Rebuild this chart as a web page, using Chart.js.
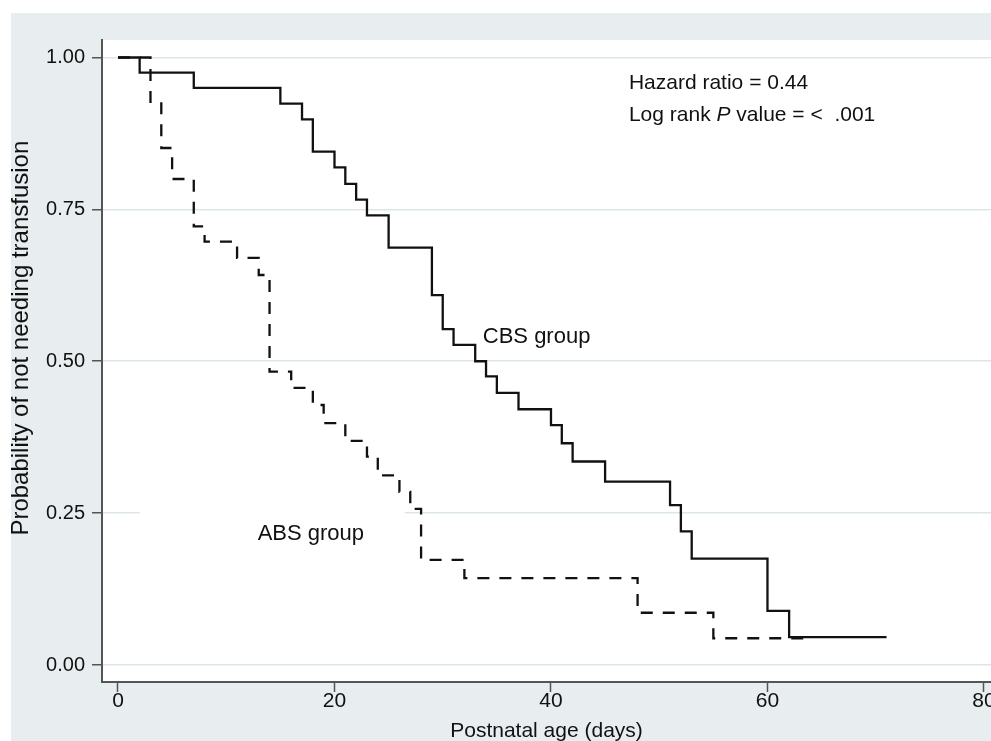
<!DOCTYPE html>
<html>
<head>
<meta charset="utf-8">
<script src="https://cdn.jsdelivr.net/npm/chart.js@4/dist/chart.umd.min.js"></script>
<style>
  html, body { margin: 0; padding: 0; background: #fff; }
  #wrap { width: 991px; height: 741px; }
</style>
</head>
<body>
<div id="wrap"><canvas id="c" width="991" height="741"></canvas></div>
<script>
// ---- data ----
const cbsDays = [0, 2, 7, 15, 17, 18, 20, 21, 22, 23, 25, 29, 30, 31, 33, 34, 35, 37, 40, 41, 42, 45, 51, 52, 53, 60, 62, 71];
const cbsSurv = [1.0, 0.975, 0.95, 0.924, 0.898, 0.845, 0.819, 0.792, 0.766, 0.74, 0.687, 0.609, 0.553, 0.527, 0.50, 0.475, 0.448, 0.421, 0.395, 0.365, 0.335, 0.302, 0.263, 0.22, 0.175, 0.089, 0.046, 0.046];
const absDays = [0, 3, 4, 5, 7, 8, 11, 13, 14, 16, 18, 19, 21, 23, 24, 26, 27, 28, 32, 48, 55, 63.5];
const absSurv = [1.0, 0.927, 0.851, 0.80, 0.722, 0.697, 0.67, 0.642, 0.483, 0.456, 0.428, 0.398, 0.369, 0.343, 0.312, 0.285, 0.257, 0.173, 0.143, 0.086, 0.044, 0.044];
const xTicks = [0, 20, 40, 60, 80];
const yTicks = [0, 0.25, 0.5, 0.75, 1.0];
const xTitle = 'Postnatal age (days)';
const yTitle = 'Probability of not needing transfusion';
const hazardText = 'Hazard ratio = 0.44';
const cbsLabel = 'CBS group';
const absLabel = 'ABS group';

const FONT = '"Liberation Sans", Arial, sans-serif';
const INK = '#111111';
const AXIS = '#555555';

const toPts = (xs, ys) => xs.map((x, i) => ({ x: x, y: ys[i] }));

const decor = {
  id: 'decor',
  beforeDraw(chart) {
    const { ctx, chartArea: a } = chart;
    ctx.save();
    ctx.fillStyle = '#ffffff';
    ctx.fillRect(0, 0, chart.width, chart.height);
    ctx.fillStyle = '#e8edf0';
    ctx.fillRect(11, 13, chart.width - 11, chart.height - 13);
    ctx.fillStyle = '#ffffff';
    ctx.fillRect(a.left, a.top, a.right - a.left, a.bottom - a.top);
    ctx.restore();
  },
  beforeDatasetsDraw(chart) {
    // white box behind the ABS label (hides part of the 0.25 grid line as in the reference)
    const { ctx, scales: { x, y } } = chart;
    ctx.save();
    ctx.fillStyle = '#ffffff';
    const x1 = x.getPixelForValue(2.0), x2 = x.getPixelForValue(26.5);
    const y1 = y.getPixelForValue(0.262), y2 = y.getPixelForValue(0.238);
    ctx.fillRect(x1, y1, x2 - x1, y2 - y1);
    ctx.restore();
  },
  afterDatasetsDraw(chart) {
    const { ctx, scales: { x, y } } = chart;
    ctx.save();
    ctx.fillStyle = INK;
    ctx.textBaseline = 'middle';
    ctx.textAlign = 'left';
    ctx.font = '21px ' + FONT;
    const hx = x.getPixelForValue(47.2);
    ctx.fillText(hazardText, hx, y.getPixelForValue(0.958));
    // Log rank P value line, with italic P
    let ly = y.getPixelForValue(0.905);
    let lx = hx;
    const p1 = 'Log rank ', p2 = 'P', p3 = ' value = <  .001';
    ctx.fillText(p1, lx, ly); lx += ctx.measureText(p1).width;
    ctx.font = 'italic 21px ' + FONT;
    ctx.fillText(p2, lx, ly); lx += ctx.measureText(p2).width;
    ctx.font = '21px ' + FONT;
    ctx.fillText(p3, lx, ly);
    ctx.font = '22px ' + FONT;
    ctx.fillText(cbsLabel, x.getPixelForValue(33.7), y.getPixelForValue(0.54));
    ctx.fillText(absLabel, x.getPixelForValue(12.9), y.getPixelForValue(0.215));
    // y axis title (rotated), positioned as in the reference
    ctx.translate(21, y.getPixelForValue(0.538));
    ctx.rotate(-Math.PI / 2);
    ctx.textAlign = 'center';
    ctx.font = '24px ' + FONT;
    ctx.fillText(yTitle, 0, 0);
    ctx.restore();
  }
};

new Chart(document.getElementById('c'), {
  type: 'line',
  data: {
    datasets: [
      {
        label: 'CBS group',
        data: toPts(cbsDays, cbsSurv),
        stepped: 'before',
        borderColor: INK,
        borderWidth: 2.3,
        pointRadius: 0,
        fill: false
      },
      {
        label: 'ABS group',
        data: toPts(absDays, absSurv),
        stepped: 'before',
        borderColor: INK,
        borderWidth: 2.3,
        borderDash: [12, 10],
        pointRadius: 0,
        fill: false
      }
    ]
  },
  options: {
    responsive: false,
    animation: false,
    devicePixelRatio: 1,
    layout: { padding: { top: 40, left: 0, right: 0, bottom: 0 } },
    plugins: { legend: { display: false }, tooltip: { enabled: false } },
    scales: {
      x: {
        type: 'linear',
        min: -1.478,
        max: 80.65,
        afterBuildTicks(s) { s.ticks = xTicks.map(v => ({ value: v })); },
        afterFit(s) { s.height = 59; s.paddingLeft = 0; s.paddingRight = 0; },
        grid: { drawOnChartArea: false, drawTicks: true, tickLength: 10, tickColor: AXIS, tickWidth: 1.5 },
        border: { display: true, color: AXIS, width: 2 },
        ticks: {
          padding: -3,
          color: INK,
          font: { family: FONT, size: 21 },
          maxRotation: 0,
          autoSkip: false,
          callback: v => String(v)
        },
        title: {
          display: true,
          text: xTitle,
          color: INK,
          font: { family: FONT, size: 21 },
          padding: { top: 0, bottom: -3 }
        }
      },
      y: {
        type: 'linear',
        min: -0.028,
        max: 1.0288,
        afterBuildTicks(s) { s.ticks = yTicks.map(v => ({ value: v })); },
        afterFit(s) { s.width = 102; s.paddingTop = 0; s.paddingBottom = 0; },
        grid: { color: '#dce5ea', lineWidth: 1.5, drawTicks: true, tickLength: 10, tickColor: AXIS, tickWidth: 1.5 },
        border: { display: true, color: AXIS, width: 2 },
        ticks: {
          padding: 7,
          color: INK,
          font: { family: FONT, size: 20 },
          autoSkip: false,
          callback: v => Number(v).toFixed(2)
        },
        title: { display: false }
      }
    }
  },
  plugins: [decor]
});
</script>
</body>
</html>
